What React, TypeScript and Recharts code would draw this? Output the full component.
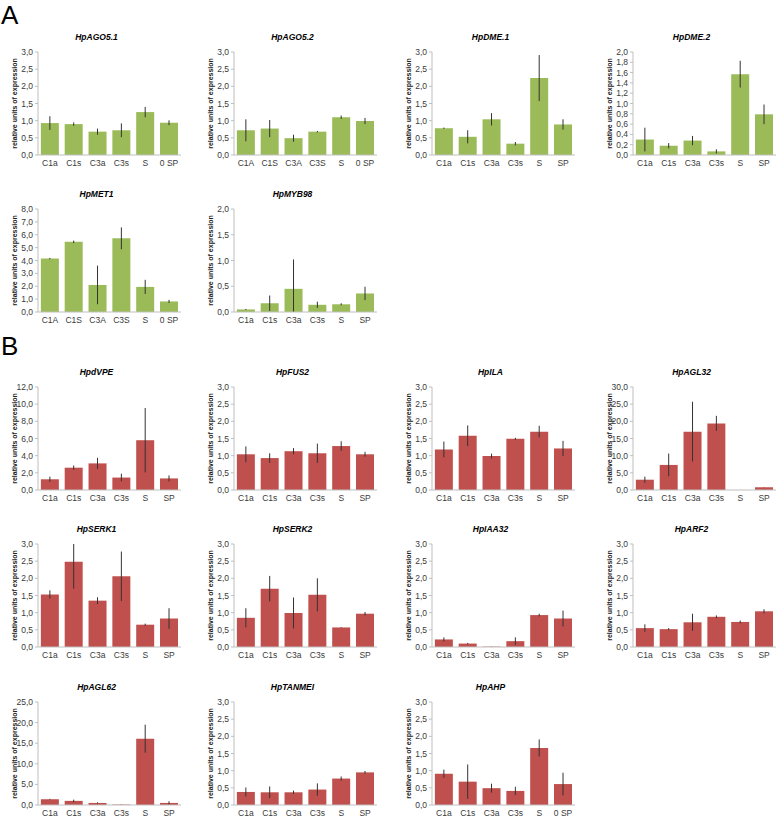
import React from "react";
import { BarChart, Bar, XAxis, YAxis, ErrorBar } from "recharts";

// category labels (they differ slightly between panels in the original figure)
const CATS = ["C1a", "C1s", "C3a", "C3s", "S", "SP"];
const CATS_0SP = ["C1a", "C1s", "C3a", "C3s", "S", "0 SP"];
const CATS_UPPER = ["C1A", "C1S", "C3A", "C3S", "S", "0 SP"];

// A: green panels
const AGO51 = [0.93, 0.9, 0.68, 0.72, 1.25, 0.94];
const AGO51_ERR = [0.2, 0.05, 0.09, 0.2, 0.15, 0.07];
const AGO52 = [0.72, 0.77, 0.49, 0.68, 1.1, 0.99];
const AGO52_ERR = [0.32, 0.25, 0.1, 0.02, 0.05, 0.09];
const DME1 = [0.78, 0.53, 1.04, 0.33, 2.24, 0.89];
const DME1_ERR = [0.02, 0.19, 0.18, 0.05, 0.67, 0.15];
const DME2 = [0.3, 0.18, 0.28, 0.07, 1.57, 0.79];
const DME2_ERR = [0.23, 0.05, 0.09, 0.04, 0.26, 0.19];
const MET1 = [4.15, 5.45, 2.1, 5.72, 1.95, 0.82];
const MET1_ERR = [0.05, 0.1, 1.5, 0.85, 0.55, 0.12];
const MYB98 = [0.05, 0.17, 0.45, 0.14, 0.15, 0.36];
const MYB98_ERR = [0.01, 0.15, 0.57, 0.06, 0.02, 0.13];

// B: red panels
const DVPE = [1.25, 2.6, 3.1, 1.45, 5.8, 1.35];
const DVPE_ERR = [0.3, 0.25, 0.65, 0.45, 3.75, 0.35];
const FUS2 = [1.04, 0.93, 1.13, 1.07, 1.28, 1.04];
const FUS2_ERR = [0.23, 0.14, 0.09, 0.28, 0.14, 0.07];
const ILA = [1.18, 1.58, 0.99, 1.49, 1.7, 1.21];
const ILA_ERR = [0.23, 0.3, 0.07, 0.03, 0.17, 0.22];
const AGL32 = [3.0, 7.3, 17.0, 19.4, 0, 0.8];
const AGL32_ERR = [0.9, 3.3, 8.7, 2.2, 0, 0.05];
const SERK1 = [1.53, 2.48, 1.35, 2.06, 0.65, 0.83];
const SERK1_ERR = [0.12, 0.78, 0.1, 0.72, 0.03, 0.3];
const SERK2 = [0.85, 1.7, 0.99, 1.52, 0.57, 0.97];
const SERK2_ERR = [0.28, 0.37, 0.45, 0.48, 0.01, 0.05];
const IAA32 = [0.22, 0.1, 0.01, 0.17, 0.93, 0.83];
const IAA32_ERR = [0.06, 0.02, 0.005, 0.11, 0.04, 0.23];
const ARF2 = [0.55, 0.52, 0.72, 0.88, 0.73, 1.04];
const ARF2_ERR = [0.11, 0.03, 0.25, 0.04, 0.04, 0.06];
const AGL62 = [1.4, 1.0, 0.5, 0.1, 16.1, 0.5];
const AGL62_ERR = [0.1, 0.3, 0.15, 0.05, 3.4, 0.4];
const TANMEI = [0.38, 0.37, 0.37, 0.45, 0.77, 0.95];
const TANMEI_ERR = [0.13, 0.17, 0.05, 0.18, 0.06, 0.04];
const AHP = [0.91, 0.68, 0.49, 0.41, 1.66, 0.61];
const AHP_ERR = [0.12, 0.5, 0.13, 0.12, 0.25, 0.33];

const GREEN = "#9bbb59";
const RED = "#c0504d";
const AXIS = "#bfbfbf";
const TEXT = "#3a3a3a";
const FONT = '"Liberation Sans", Arial, sans-serif';

const COL_X = [38, 234, 432, 633];
const ROW_Y = [52, 209, 387, 544, 702];
const PLOT_W = 143;
const PLOT_H = 103;
const Y_AXIS_W = 38;
const TOP_PAD = 8;
const X_AXIS_H = 22;
const RIGHT_PAD = 2;
const TITLE_SHIFT = 13;

type PanelDef = {
  title: string;
  cats: string[];
  values: number[];
  errors: number[];
  max: number;
  step: number;
  color: string;
  col: number;
  row: number;
};

const panels: PanelDef[] = [
  { title: "HpAGO5.1", cats: CATS_0SP, values: AGO51, errors: AGO51_ERR, max: 3, step: 0.5, color: GREEN, col: 0, row: 0 },
  { title: "HpAGO5.2", cats: CATS_UPPER, values: AGO52, errors: AGO52_ERR, max: 3, step: 0.5, color: GREEN, col: 1, row: 0 },
  { title: "HpDME.1", cats: CATS, values: DME1, errors: DME1_ERR, max: 3, step: 0.5, color: GREEN, col: 2, row: 0 },
  { title: "HpDME.2", cats: CATS, values: DME2, errors: DME2_ERR, max: 2, step: 0.2, color: GREEN, col: 3, row: 0 },
  { title: "HpMET1", cats: CATS_UPPER, values: MET1, errors: MET1_ERR, max: 8, step: 1, color: GREEN, col: 0, row: 1 },
  { title: "HpMYB98", cats: CATS, values: MYB98, errors: MYB98_ERR, max: 2, step: 0.5, color: GREEN, col: 1, row: 1 },
  { title: "HpdVPE", cats: CATS, values: DVPE, errors: DVPE_ERR, max: 12, step: 2, color: RED, col: 0, row: 2 },
  { title: "HpFUS2", cats: CATS, values: FUS2, errors: FUS2_ERR, max: 3, step: 0.5, color: RED, col: 1, row: 2 },
  { title: "HpILA", cats: CATS, values: ILA, errors: ILA_ERR, max: 3, step: 0.5, color: RED, col: 2, row: 2 },
  { title: "HpAGL32", cats: CATS, values: AGL32, errors: AGL32_ERR, max: 30, step: 5, color: RED, col: 3, row: 2 },
  { title: "HpSERK1", cats: CATS, values: SERK1, errors: SERK1_ERR, max: 3, step: 0.5, color: RED, col: 0, row: 3 },
  { title: "HpSERK2", cats: CATS, values: SERK2, errors: SERK2_ERR, max: 3, step: 0.5, color: RED, col: 1, row: 3 },
  { title: "HpIAA32", cats: CATS, values: IAA32, errors: IAA32_ERR, max: 3, step: 0.5, color: RED, col: 2, row: 3 },
  { title: "HpARF2", cats: CATS, values: ARF2, errors: ARF2_ERR, max: 3, step: 0.5, color: RED, col: 3, row: 3 },
  { title: "HpAGL62", cats: CATS, values: AGL62, errors: AGL62_ERR, max: 25, step: 5, color: RED, col: 0, row: 4 },
  { title: "HpTANMEI", cats: CATS, values: TANMEI, errors: TANMEI_ERR, max: 3, step: 0.5, color: RED, col: 1, row: 4 },
  { title: "HpAHP", cats: CATS_0SP, values: AHP, errors: AHP_ERR, max: 3, step: 0.5, color: RED, col: 2, row: 4 },
];

const fmt = (v: number) => v.toFixed(1).replace(".", ",");

const Panel = ({ p }: { p: PanelDef }) => {
  // whiskers are cut at the plot edges, as in the original
  const data = p.cats.map((c, i) => {
    const v = p.values[i];
    const e = p.errors[i];
    return { cat: c, value: v, err: [Math.min(e, v), Math.min(e, p.max - v)] };
  });
  const ticks: number[] = [];
  for (let v = 0; v <= p.max + 1e-9; v += p.step) ticks.push(+v.toFixed(2));
  const edges = p.cats.map((_, i) => i).concat(p.cats.length);
  const plotX = COL_X[p.col];
  const plotY = ROW_Y[p.row];

  return (
    <>
      <div
        style={{
          position: "absolute",
          left: plotX - TITLE_SHIFT,
          top: plotY - 20,
          width: PLOT_W,
          textAlign: "center",
          fontSize: 8.5,
          fontWeight: "bold",
          fontStyle: "italic",
          lineHeight: "10px",
          color: "#000",
        }}
      >
        {p.title}
      </div>
      <div style={{ position: "absolute", left: plotX - Y_AXIS_W, top: plotY - TOP_PAD }}>
        <BarChart
          width={Y_AXIS_W + PLOT_W + RIGHT_PAD}
          height={TOP_PAD + PLOT_H + X_AXIS_H}
          data={data}
          margin={{ top: TOP_PAD, right: RIGHT_PAD, bottom: 0, left: 0 }}
          barCategoryGap="12%"
        >
          <XAxis
            xAxisId="edge"
            type="number"
            domain={[0, p.cats.length]}
            ticks={edges}
            allowDataOverflow
            tick={false}
            axisLine={false}
            tickLine={{ stroke: AXIS }}
            tickSize={3}
            height={0}
          />
          <XAxis
            xAxisId="cat"
            dataKey="cat"
            type="category"
            interval={0}
            axisLine={{ stroke: AXIS }}
            tickLine={false}
            tickSize={3}
            tickMargin={2}
            height={X_AXIS_H}
            tick={{ fontSize: 8.5, fill: TEXT }}
          />
          <YAxis
            domain={[0, p.max]}
            ticks={ticks}
            interval={0}
            allowDataOverflow
            width={Y_AXIS_W}
            tickFormatter={fmt}
            tick={{ fontSize: 8.5, fill: TEXT }}
            tickSize={3}
            tickMargin={2}
            tickLine={{ stroke: AXIS }}
            axisLine={{ stroke: AXIS }}
            label={{
              value: "relative units of expression",
              angle: -90,
              position: "insideLeft",
              offset: 15,
              style: { textAnchor: "middle", fontSize: 7, fontWeight: "bold", fill: "#222" },
            }}
          />
          <Bar xAxisId="cat" dataKey="value" fill={p.color} isAnimationActive={false}>
            <ErrorBar dataKey="err" width={0} stroke="#333" strokeWidth={1} direction="y" isAnimationActive={false} />
          </Bar>
        </BarChart>
      </div>
    </>
  );
};

export default function App() {
  return (
    <div
      style={{
        position: "absolute",
        left: 0,
        top: 0,
        width: 778,
        height: 818,
        background: "#fff",
        fontFamily: FONT,
        overflow: "hidden",
      }}
    >
      <div style={{ position: "absolute", left: 1, top: 0, fontSize: 26, lineHeight: "30px" }}>A</div>
      <div style={{ position: "absolute", left: 1, top: 331, fontSize: 26, lineHeight: "30px" }}>B</div>
      {panels.map((p) => (
        <Panel key={p.title} p={p} />
      ))}
    </div>
  );
}
